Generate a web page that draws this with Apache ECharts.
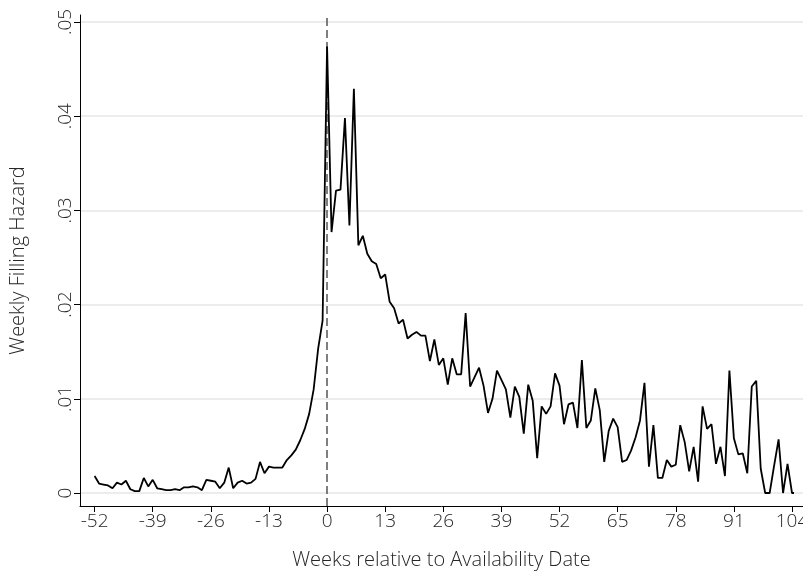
<!DOCTYPE html>
<html>
<head>
<meta charset="utf-8">
<script src="https://cdn.jsdelivr.net/npm/echarts@6/dist/echarts.min.js"></script>
<style>
  html, body { margin: 0; padding: 0; background: #fff; }
  #main { width: 803px; height: 574px; }
</style>
</head>
<body>
<div id="main"></div>
<script>
// weekly filling hazard, weeks -52 .. -1
var firstWeek = -52;
var hazardBefore = [
  0.0018, 0.0010, 0.0009, 0.0008, 0.0005, 0.0011, 0.0009, 0.0013, 0.0004, 0.0002,
  0.0002, 0.0016, 0.0007, 0.0014, 0.0005, 0.0004, 0.0003, 0.0003, 0.0004, 0.0003,
  0.0006, 0.0006, 0.0007, 0.0006, 0.0003, 0.0014, 0.0013, 0.0012, 0.0005, 0.0011,
  0.0027, 0.0005, 0.0011, 0.0013, 0.0010, 0.0011, 0.0015, 0.0033, 0.0021, 0.0028,
  0.0027, 0.0027, 0.0027, 0.0035, 0.0040, 0.0046, 0.0056, 0.0068, 0.0084, 0.0110,
  0.0153, 0.0183
];
// weeks 0 .. 105
var hazardAfter = [
  0.0474, 0.0277, 0.0321, 0.0322, 0.0398, 0.0284, 0.0429, 0.0263, 0.0273, 0.0254,
  0.0246, 0.0243, 0.0228, 0.0232, 0.0203, 0.0196, 0.0180, 0.0184, 0.0164, 0.0168,
  0.0171, 0.0167, 0.0167, 0.0140, 0.0163, 0.0136, 0.0143, 0.0115, 0.0143, 0.0126,
  0.0126, 0.0191, 0.0113, 0.0123, 0.0133, 0.0114, 0.0085, 0.0100, 0.0130, 0.0120,
  0.0110, 0.0080, 0.0113, 0.0102, 0.0063, 0.0115, 0.0098, 0.0037, 0.0092, 0.0084,
  0.0092, 0.0127, 0.0114, 0.0073, 0.0094, 0.0096, 0.0069, 0.0141, 0.0069, 0.0077,
  0.0111, 0.0088, 0.0033, 0.0066, 0.0079, 0.0070, 0.0033, 0.0035, 0.0045, 0.0059,
  0.0077, 0.0117, 0.0028, 0.0072, 0.0016, 0.0016, 0.0035, 0.0028, 0.0030, 0.0072,
  0.0054, 0.0023, 0.0049, 0.0012, 0.0092, 0.0068, 0.0073, 0.0031, 0.0049, 0.0018,
  0.0130, 0.0058, 0.0041, 0.0042, 0.0021, 0.0113, 0.0119, 0.0026, 0.0000, 0.0000,
  0.0029, 0.0057, 0.0000, 0.0031, 0.0000, 0.0000
];
var xTickMin = -52, xTickMax = 104, xTickStep = 13;
var yTickMin = 0, yTickMax = 0.05, yTickStep = 0.01;
var eventWeek = 0;

var points = [];
hazardBefore.concat(hazardAfter).forEach(function (v, i) {
  points.push([firstWeek + i, v]);
});

// layout (pixels)
var W = 803, H = 574;
var frame = { left: 80, right: 0, top: 15, bottom: 68 };
var plot = { left: 94.6, right: 11, top: 22, bottom: 81 };
var pxPerWeek = (W - plot.left - plot.right) / (xTickMax - xTickMin);
var frameXMin = xTickMin - (plot.left - frame.left) / pxPerWeek;
var frameXMax = xTickMax + (plot.right - frame.right) / pxPerWeek;

var font = '"Open Sans", "Noto Sans", sans-serif';
var textColor = '#262626';

var myChart = echarts.init(document.getElementById('main'), null, { renderer: 'canvas' });

function box(b) {
  return { left: b.left, right: b.right, top: b.top, bottom: b.bottom, outerBoundsMode: 'none', containLabel: false };
}

var option = {
  backgroundColor: '#fff',
  animation: false,
  textStyle: { fontFamily: font },
  grid: [
    // 0: data
    box(plot),
    // 1: frame (axis lines, titles, reference line)
    box(frame),
    // 2: horizontal gridlines across the full width
    box({ left: frame.left, right: frame.right, top: plot.top, bottom: plot.bottom })
  ],
  xAxis: [
    {
      gridIndex: 0, type: 'value', min: xTickMin, max: xTickMax, interval: xTickStep,
      offset: plot.bottom - frame.bottom,
      axisLine: { show: false, onZero: false },
      axisTick: { show: true, length: 6, lineStyle: { color: '#000', width: 1 } },
      axisLabel: { color: textColor, fontSize: 19, fontWeight: 300, margin: 6, fontFamily: font },
      splitLine: { show: false }
    },
    {
      gridIndex: 1, type: 'value', min: frameXMin, max: frameXMax,
      name: 'Weeks relative to Availability Date', nameLocation: 'middle', nameGap: 44,
      nameTextStyle: { color: textColor, fontSize: 20, fontWeight: 300, fontFamily: font },
      axisLine: { show: true, onZero: false, lineStyle: { color: '#000', width: 1 } },
      axisTick: { show: false }, axisLabel: { show: false }, splitLine: { show: false }
    },
    {
      gridIndex: 2, type: 'value', min: 0, max: 1, show: false
    }
  ],
  yAxis: [
    {
      gridIndex: 0, type: 'value', min: yTickMin, max: yTickMax, interval: yTickStep,
      offset: plot.left - frame.left,
      axisLine: { show: false, onZero: false },
      axisTick: { show: true, length: 6, lineStyle: { color: '#000', width: 1 } },
      axisLabel: {
        color: textColor, fontSize: 19, fontWeight: 300, margin: 5, rotate: 90, fontFamily: font,
        formatter: function (v) { return v === 0 ? '0' : v.toFixed(2).replace(/^0/, ''); }
      },
      splitLine: { show: false }
    },
    {
      gridIndex: 1, type: 'value', min: 0, max: 1,
      name: 'Weekly Filling Hazard', nameLocation: 'middle', nameGap: 52,
      nameTextStyle: { color: textColor, fontSize: 20, fontWeight: 300, fontFamily: font },
      axisLine: { show: true, onZero: false, lineStyle: { color: '#000', width: 1 } },
      axisTick: { show: false }, axisLabel: { show: false }, splitLine: { show: false }
    },
    {
      gridIndex: 2, type: 'value', min: yTickMin, max: yTickMax, interval: yTickStep,
      axisLine: { show: false, onZero: false }, axisTick: { show: false }, axisLabel: { show: false },
      splitLine: { show: true, lineStyle: { color: '#e6e6e6', width: 1.5 } }
    }
  ],
  series: [
    {
      name: 'availability',
      type: 'line',
      xAxisIndex: 1, yAxisIndex: 1,
      data: [],
      silent: true,
      markLine: {
        symbol: 'none', silent: true, label: { show: false },
        lineStyle: { color: '#555', type: [8, 4], width: 1.5 },
        data: [{ xAxis: eventWeek }]
      }
    },
    {
      name: 'hazard',
      type: 'line',
      xAxisIndex: 0, yAxisIndex: 0,
      data: points,
      showSymbol: false,
      symbol: 'none',
      lineStyle: { color: '#000', width: 1.8 },
      z: 5
    }
  ]
};

myChart.setOption(option);
</script>
</body>
</html>
